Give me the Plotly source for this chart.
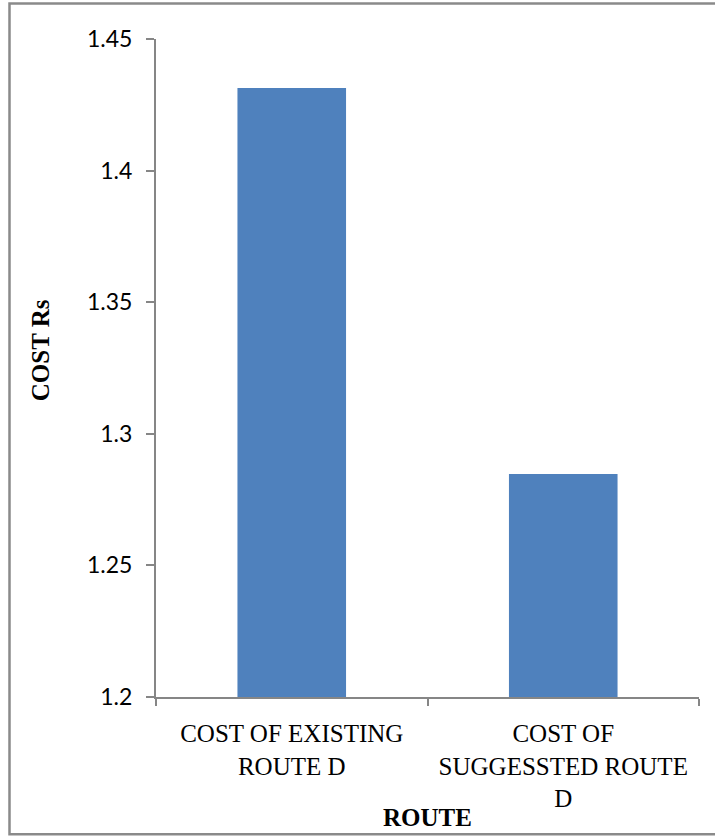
import plotly.graph_objects as go

categories = ["COST OF EXISTING<br>ROUTE D", "COST OF<br>SUGGESSTED ROUTE<br>D"]
costs = [1.4314, 1.2847]
y_tick_values = [1.2, 1.25, 1.3, 1.35, 1.4, 1.45]
y_tick_labels = ["1.2", "1.25", "1.3", "1.35", "1.4", "1.45"]
x_title = "ROUTE"
y_title = "COST Rs"

fig = go.Figure(go.Bar(x=categories, y=costs, marker=dict(color="#4F81BD", line=dict(width=0)),
                       width=0.4))

fig.update_layout(
    width=715, height=836,
    margin=dict(l=156, r=16, t=39, b=139),
    paper_bgcolor="white", plot_bgcolor="white",
    showlegend=False,
    bargap=0.6,
)
fig.update_xaxes(
    showline=True, linecolor="#868686", linewidth=2,
    ticks="outside", ticklen=7, tickwidth=2, tickcolor="#868686",
    tickson="boundaries", showgrid=False,
    tickfont=dict(family="Liberation Serif", size=25, color="black"),
    ticklabelstandoff=13,
)
fig.update_yaxes(
    range=[1.2, 1.45], tickvals=y_tick_values, ticktext=y_tick_labels,
    showline=True, linecolor="#868686", linewidth=2,
    ticks="outside", ticklen=8, tickwidth=2, tickcolor="#868686",
    showgrid=False, zeroline=False,
    tickfont=dict(family="Lato", size=23, color="black"),
    ticklabelstandoff=9,
)
fig.add_annotation(text="<b>%s</b>" % x_title, xref="paper", yref="paper", x=0.5, y=-0.2067,
                   xanchor="center", yanchor="bottom", showarrow=False,
                   font=dict(family="Liberation Serif", size=25, color="black"))
fig.add_annotation(text="<b>%s</b>" % y_title, xref="paper", yref="paper", x=-0.2136, y=0.527,
                   xanchor="center", yanchor="middle",
                   textangle=-90, showarrow=False,
                   font=dict(family="Liberation Serif", size=25, color="black"))
fig.add_shape(type="rect", xref="paper", yref="paper",
              x0=-0.2698, x1=1.04, y0=-0.2085, y1=1.054,
              line=dict(color="#8a8a8a", width=2.5), fillcolor="rgba(0,0,0,0)", layer="below")

fig.write_html("out.html")
